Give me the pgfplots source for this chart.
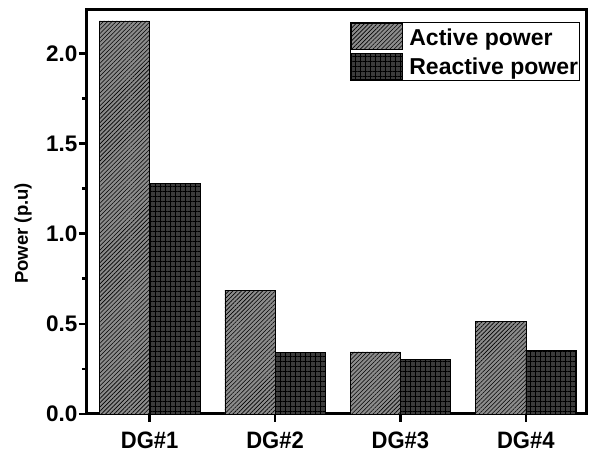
\documentclass[border=0pt]{standalone}
\usepackage{pgfplots}
\pgfplotsset{compat=1.18}
\usepackage{fontspec}
\setmainfont{Liberation Sans}
\usetikzlibrary{patterns.meta}
\definecolor{actfill}{HTML}{8C8C8C}
\definecolor{reafill}{HTML}{3C3C3C}
\begin{document}
\begin{tikzpicture}
\begin{axis}[
 width=499pt, height=404pt, scale only axis,
 ybar=0pt, bar width=0.4,
 xmin=-0.5, xmax=3.48, ymin=0, ymax=2.24,
 xtick={0,1,2,3}, xticklabels={DG\#1,DG\#2,DG\#3,DG\#4},
 ytick={0,0.5,1,1.5,2}, minor ytick={0.25,0.75,1.25,1.75},
 yticklabel style={/pgf/number format/fixed, /pgf/number format/fixed zerofill, /pgf/number format/precision=1, /pgf/number format/assume math mode=true,
   font=\fontsize{22.5}{26}\selectfont\bfseries, xshift=2pt},
 xticklabel style={font=\fontsize{22}{26}\selectfont\bfseries, yscale=1.08, yshift=-6pt},
 tick pos=left, tick align=outside,
 major tick length=8pt, minor tick length=5pt,
 xtick style={line width=2.5pt, black},
 ytick style={line width=2.5pt, black},
 axis line style={line width=3pt},
 ylabel={Power (p.u)},
 ylabel style={font=\fontsize{18.5}{22}\selectfont\bfseries, at={(axis description cs:-0.128,0.447)}, anchor=center},
 legend style={at={(1,1)}, anchor=north east, xshift=-6pt, yshift=-12pt, draw=black, line width=0.8pt,
   font=\fontsize{23}{27}\selectfont\bfseries, inner xsep=1pt, inner ysep=1pt, column sep=6pt, row sep=3pt,
   nodes={inner xsep=0.5pt, inner ysep=1.5pt}, cells={anchor=west}},
 legend image code/.code={\draw[#1, line width=0.5pt] (0pt,-12pt) rectangle (51pt,14pt);},
]
\addplot[fill=actfill, draw=black, line width=0.5pt,
  postaction={pattern={Lines[angle=45,distance=3pt,line width=0.6pt]}, pattern color=black}]
  coordinates {(0,2.18) (1,0.685) (2,0.345) (3,0.515)};
\addplot[fill=reafill, draw=black, line width=0.5pt,
  postaction={pattern={Hatch[angle=0,distance=5pt,line width=0.6pt]}, pattern color=black}]
  coordinates {(0,1.278) (1,0.343) (2,0.302) (3,0.354)};
\legend{Active power, Reactive power}
\end{axis}
\pgfresetboundingbox
\path ([xshift=-87pt,yshift=-42pt]current axis.south west) rectangle ([xshift=7pt,yshift=10pt]current axis.north east);
\end{tikzpicture}
\end{document}
